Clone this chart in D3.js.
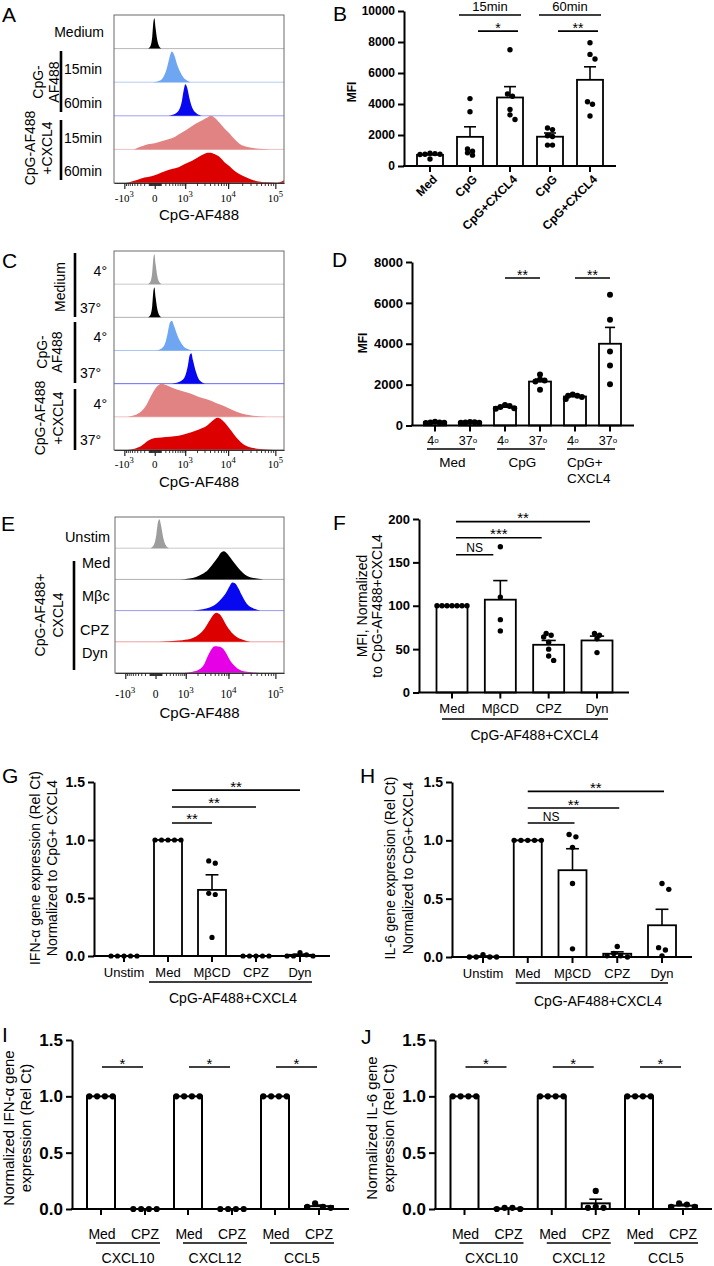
<!DOCTYPE html>
<html><head><meta charset="utf-8">
<script src="https://cdn.jsdelivr.net/npm/d3@7/dist/d3.min.js"></script>
<style>html,body{margin:0;padding:0;background:#fff;}svg{display:block;}</style>
</head><body>
<script>
// ======================= DATA =======================
// Flow-cytometry histograms: [CpG-AF488 intensity, modal height (0..1)]
const histA_medium = [[-116,0],[-68,0.08],[-39,0.35],[-20,0.8],[-5,0.9],[13,0.6],[39,0.25],[68,0.08],[116,0]];
const histA_cpg15 = [[-26,0],[84,0.05],[152,0.15],[233,0.4],[302,0.7],[381,0.91],[470,0.8],[571,0.55],[726,0.3],[908,0.13],[1123,0.05],[1376,0]];
const histA_cpg60 = [[233,0],[439,0.04],[645,0.15],[813,0.45],[908,0.75],[1010,0.94],[1123,0.85],[1310,0.5],[1519,0.25],[1842,0.1],[2226,0.03],[2677,0]];
const histA_cx15 = [[-502,0],[-381,0.05],[-233,0.1],[-116,0.15],[0,0.18],[116,0.24],[278,0.3],[502,0.38],[813,0.5],[1245,0.63],[1842,0.76],[2677,0.87],[3505,0.95],[4183,1.0],[4990,0.95],[6450,0.8],[8330,0.62],[10740,0.47],[13830,0.3],[17760,0.16],[24760,0.08],[34500,0.04],[56600,0.01],[78700,0]];
const histA_cx60 = [[-908,0],[-645,0.04],[-381,0.1],[-190,0.16],[-53,0.2],[53,0.27],[190,0.35],[381,0.42],[645,0.47],[1010,0.57],[1519,0.66],[2226,0.78],[2929,0.86],[3505,0.9],[4183,0.9],[4990,0.86],[6450,0.78],[8330,0.62],[10740,0.5],[13830,0.36],[17760,0.26],[24760,0.16],[34500,0.08],[47900,0.04],[66600,0.02],[109000,0.01],[139800,0.05],[152000,0.08]];

const histC_med4 = [[-116,0],[-68,0.08],[-39,0.35],[-20,0.8],[-5,0.9],[13,0.6],[39,0.25],[68,0.08],[116,0]];
const histC_med37 = [[-116,0],[-68,0.08],[-39,0.35],[-20,0.8],[-5,0.9],[13,0.6],[39,0.25],[68,0.08],[116,0]];
const histC_cpg4 = [[26,0],[116,0.06],[190,0.2],[255,0.5],[327,0.85],[381,0.9],[470,0.72],[571,0.5],[726,0.27],[908,0.12],[1123,0.05],[1519,0]];
const histC_cpg37 = [[381,0],[571,0.03],[813,0.1],[1010,0.25],[1182,0.55],[1310,0.85],[1447,0.92],[1597,0.7],[1842,0.4],[2124,0.18],[2442,0.07],[3066,0]];
const histC_cx4 = [[-813,0],[-571,0.03],[-327,0.12],[-152,0.35],[-53,0.65],[26,0.9],[116,1.0],[233,0.95],[439,0.86],[813,0.78],[1376,0.7],[2226,0.6],[3505,0.52],[5430,0.42],[8330,0.32],[12700,0.2],[19300,0.1],[29200,0.05],[44200,0.02],[66600,0]];
const histC_cx37 = [[-813,0],[-502,0.04],[-278,0.12],[-116,0.28],[0,0.36],[116,0.38],[327,0.4],[645,0.43],[1123,0.5],[1842,0.58],[2677,0.66],[3505,0.75],[4566,0.88],[5920,0.97],[7030,0.93],[9070,0.78],[11680,0.58],[15030,0.38],[19300,0.22],[24760,0.12],[34500,0.06],[47900,0.03],[78700,0.01],[109000,0]];

const histE_unstim = [[-84,0],[-26,0.1],[13,0.45],[39,0.85],[62,0.93],[90,0.75],[134,0.35],[190,0.1],[278,0]];
const histE_med = [[645,0],[1245,0.03],[1842,0.08],[2677,0.18],[3505,0.3],[4566,0.5],[5920,0.72],[7030,0.87],[8000,0.9],[9070,0.85],[10740,0.72],[13830,0.5],[17760,0.3],[22800,0.15],[29200,0.07],[40600,0.03],[56600,0]];
const histE_mbc = [[1519,0],[2677,0.04],[3830,0.1],[5430,0.22],[7030,0.38],[9070,0.6],[10740,0.8],[12180,0.9],[13830,0.88],[16350,0.72],[19300,0.5],[22800,0.3],[26900,0.16],[34500,0.07],[47900,0]];
const histE_cpz = [[53,0],[278,0.02],[813,0.05],[1519,0.12],[2226,0.25],[2929,0.42],[3830,0.68],[4566,0.85],[5430,0.93],[6450,0.88],[7650,0.72],[9070,0.52],[11680,0.3],[15030,0.15],[21000,0.06],[29200,0]];
const histE_dyn = [[908,0],[1519,0.04],[2226,0.12],[2929,0.3],[3505,0.55],[4183,0.75],[4770,0.85],[5430,0.86],[6450,0.84],[7650,0.78],[9070,0.62],[10740,0.42],[13830,0.22],[17760,0.1],[24760,0.04],[40600,0.01],[56600,0]];

const histTickValues = [-1000, 0, 1000, 10000, 100000];
const histTickLabels = [["-10","3"],["0",""],["10","3"],["10","4"],["10","5"]];

// Panel B
const bCategories = ["Med","CpG","CpG+CXCL4","CpG","CpG+CXCL4"];
const bMeans = [720,1880,4420,1890,5560];
const bSEM = [60,650,700,240,840];
const bPoints = [[800,760,760,740,820,450],[4350,3500,1100,950,850,700],[7500,4650,4500,3650,3300,3000],[2350,2450,1950,1900,1350,1350],[7950,7200,6900,4150,3980,3230]];
const bTicks = [0,2000,4000,6000,8000,10000];
const bTimeGroups = [{from:1,to:2,label:"15min",y:9740},{from:3,to:4,label:"60min",y:9740}];
const bSig = [{from:1,to:2,label:"*",y:8700},{from:3,to:4,label:"**",y:8700}];

// Panel D
const dCategories = ["4","37","4","37","4","37"];
const dGroups = [{from:0,to:1,label:["Med"]},{from:2,to:3,label:["CpG"]},{from:4,to:5,label:["CpG+","CXCL4"]}];
const dMeans = [150,150,900,2150,1420,4000];
const dSEM = [20,20,50,120,40,800];
const dPoints = [[180,150,130,150,120],[160,140,170,130,150],[1000,950,900,850,820],[2500,2250,2200,2150,1750],[1520,1460,1450,1400,1300],[6400,5170,3620,2930,2020]];
const dTicks = [0,2000,4000,6000,8000];
const dSig = [{from:2,to:3,label:"**",y:7215},{from:4,to:5,label:"**",y:7215}];

// Panel F
const fCategories = ["Med","M\u03B2CD","CPZ","Dyn"];
const fMeans = [100,107,55,60];
const fSEM = [0,22,5,5];
const fPoints = [[100,100,100,100,100,100,100],[168,110,84,71],[64,66,68,58,50,37,42],[66,68,62,46]];
const fTicks = [0,50,100,150,200];
const fSig = [{from:0,to:3,label:"**",y:197},{from:0,to:2,label:"***",y:178.4},{from:0,to:1,label:"NS",y:158.8}];

// Panel G
const gCategories = ["Unstim","Med","M\u03B2CD","CPZ","Dyn"];
const gMeans = [0,1,0.57,0,0.01];
const gSEM = [0,0,0.13,0,0.006];
const gPoints = [[0,0,0,0,0],[1,1,1,1,1],[0.82,0.80,0.54,0.53,0.16],[0,0,0,0,0],[0,0.03,0.01,0,0]];
const gSig = [{from:1,to:4,label:"**",y:1.43},{from:1,to:3,label:"**",y:1.285},{from:1,to:2,label:"**",y:1.147}];

// Panel H
const hCategories = ["Unstim","Med","M\u03B2CD","CPZ","Dyn"];
const hMeans = [0.004,1,0.744,0.028,0.272];
const hSEM = [0.004,0,0.184,0.016,0.137];
const hPoints = [[0,0.02,0,0,0],[1,1,1,1,1],[1.05,1.03,0.94,0.63,0.07],[0.09,0.03,0.01,0,0.01],[0.63,0.58,0.08,0.06,0.01]];
const hSig = [{from:1,to:4,label:"**",y:1.42},{from:1,to:3,label:"**",y:1.277},{from:1,to:2,label:"NS",y:1.148}];

const relTicks = [0,0.5,1.0,1.5];

// Panels I & J
const ijGroups = ["CXCL10","CXCL12","CCL5"];
const ijConds = ["Med","CPZ"];
const iMeans = [[1,0],[1,0],[1,0.025]];
const iSEM = [[0,0],[0,0],[0,0.01]];
const iPoints = [[[1,1,1,1],[0,0,0,0]],[[1,1,1,1],[0,0,0,0]],[[1,1,1,1],[0.05,0.02,0.02,0.01]]];
const jMeans = [[1,0.005],[1,0.05],[1,0.03]];
const jSEM = [[0,0.003],[0,0.037],[0,0.012]];
const jPoints = [[[1,1,1,1],[0,0,0.01,0.01]],[[1,1,1,1],[0.16,0.02,0.01,0.01]],[[1,1,1,1],[0.05,0.04,0.02,0.02]]];
const ijSigY = 1.26;

// ======================= DRAWING =======================
const FONT = "'Liberation Sans', Arial, Helvetica, sans-serif";
const svg = d3.select("body").append("svg").attr("width",714).attr("height",1266)
  .style("font-family",FONT).style("background","#fff");

function T(s,x,y,o={}){
  const t = svg.append("text").attr("x",x).attr("y",y).text(s)
    .attr("font-size",o.size||12).attr("text-anchor",o.anchor||"start").attr("fill","#000");
  if(o.weight) t.attr("font-weight",o.weight);
  if(o.family) t.attr("font-family",o.family);
  return t;
}
function RT(s,x,cy,size,o={}){
  const t = svg.append("text").attr("transform",`translate(${x},${cy}) rotate(-90)`)
    .attr("text-anchor","middle").attr("dy","0.35em").attr("font-size",size).text(s);
  if(o.weight) t.attr("font-weight",o.weight);
  return t;
}
function L(x1,y1,x2,y2,w=1.5,c="#000"){
  svg.append("line").attr("x1",x1).attr("y1",y1).attr("x2",x2).attr("y2",y2).attr("stroke",c).attr("stroke-width",w);
}

// panel letters
[["A",2,22],["B",333,21],["C",2,268],["D",332,267],["E",1,531],["F",333,530],["G",2,783],["H",360,783],["I",2,1042],["J",361,1044]]
  .forEach(d=>T(d[0],d[1],d[2],{size:21}));

// ---------- histograms ----------
const histDomain = [-1840,152000];
const minorTicks = [];
for(let k=1;k<=9;k++){ minorTicks.push(k*10,-k*10,k*100,-k*100,k*1000,k*10000); }

function histPanel(cfg){
  const x = d3.scaleSymlog().constant(300).domain(histDomain).range([cfg.x0,cfg.x1]);
  const n = cfg.rows.length, rh = (cfg.y1-cfg.y0)/n;
  cfg.rows.forEach((r,i)=>{
    const yb = cfg.y0+(i+1)*rh;
    const y = d3.scaleLinear().domain([0,1]).range([yb,yb-rh]);
    const area = d3.area().x(d=>x(d[0])).y0(yb).y1(d=>y(d[1])).curve(d3.curveMonotoneX);
    if(i<n-1) L(cfg.x0,yb,cfg.x1,yb,1,r.line||r.color);
    svg.append("path").attr("d",area(r.data)).attr("fill",r.color);
  });
  svg.append("rect").attr("x",cfg.x0).attr("y",cfg.y0).attr("width",cfg.x1-cfg.x0).attr("height",cfg.y1-cfg.y0)
    .attr("fill","none").attr("stroke","#6a6a6a").attr("stroke-width",1);
  const ga = svg.append("g").attr("transform",`translate(0,${cfg.y1})`)
    .call(d3.axisBottom(x).tickValues(histTickValues).tickSize(6).tickSizeOuter(0).tickFormat(""));
  ga.select(".domain").attr("stroke","#333").attr("stroke-width",1.2);
  ga.selectAll(".tick line").attr("stroke","#222").attr("stroke-width",1.2);
  const gm = svg.append("g").attr("transform",`translate(0,${cfg.y1})`)
    .call(d3.axisBottom(x).tickValues(minorTicks).tickSize(3).tickSizeOuter(0).tickFormat(""));
  gm.select(".domain").remove();
  gm.selectAll(".tick line").attr("stroke","#222").attr("stroke-width",0.9);
  histTickValues.forEach((v,i)=>{
    const t = svg.append("text").attr("x",x(v)).attr("y",cfg.labelY).attr("text-anchor","middle")
      .attr("font-family","'Liberation Serif','Times New Roman',serif").attr("font-size",cfg.tickSize);
    t.append("tspan").text(histTickLabels[i][0]);
    if(histTickLabels[i][1]) t.append("tspan").attr("dy",-cfg.tickSize*0.45).attr("font-size",cfg.tickSize*0.78).text(histTickLabels[i][1]);
  });
  T("CpG-AF488",(cfg.x0+cfg.x1)/2,cfg.titleY,{size:cfg.titleSize,anchor:"middle"});
}

const cBlack="#000", cGray="#9d9d9d", cLBlue="#6ea6f2", cBlue="#0808f0", cSalmon="#e28383", cRed="#dc0000", cMag="#e600e6";

histPanel({x0:114,x1:284,y0:15,y1:183,labelY:202,tickSize:11,titleY:220,titleSize:15,rows:[
  {data:histA_medium,color:cBlack,line:"#b8b8b8"},
  {data:histA_cpg15,color:cLBlue,line:"#b5cdf5"},
  {data:histA_cpg60,color:cBlue,line:"#a0a0f5"},
  {data:histA_cx15,color:cSalmon,line:"#f0c0c0"},
  {data:histA_cx60,color:cRed}]});
T("Medium",104,37,{size:14,anchor:"end"});
T("15min",64,74,{size:14}); T("60min",64,108,{size:14});
T("15min",64,143,{size:14}); T("60min",64,176,{size:14});
L(61,51,61,112,2.6); L(61,120,61,180,2.6);
RT("CpG-",38,82,14); RT("AF488",54,82,14);
RT("CpG-AF488",30,148,14); RT("+CXCL4",47,148,14);

histPanel({x0:114,x1:284,y0:251,y1:450,labelY:468,tickSize:11,titleY:487,titleSize:15,rows:[
  {data:histC_med4,color:cGray,line:"#c8c8c8"},
  {data:histC_med37,color:cBlack,line:"#b0b0b0"},
  {data:histC_cpg4,color:cLBlue,line:"#a8c6f5"},
  {data:histC_cpg37,color:cBlue,line:"#6a6af5"},
  {data:histC_cx4,color:cSalmon,line:"#f0c0c0"},
  {data:histC_cx37,color:cRed}]});
[[276,313],[342,378],[409,445]].forEach(p=>{
  T("4\u00B0",107,p[0],{size:14,anchor:"end"}); T("37\u00B0",80,p[1],{size:14});
});
L(75,253,75,317,2.6); L(75,322,75,383,2.6); L(75,389,75,450,2.6);
RT("Medium",60,287,14);
RT("CpG-",42,352,14); RT("AF488",57,352,14);
RT("CpG-AF488",40,418,14); RT("+CXCL4",58,418,14);

histPanel({x0:115,x1:284,y0:517,y1:673,labelY:698,tickSize:11.5,titleY:718,titleSize:15,rows:[
  {data:histE_unstim,color:cGray,line:"#c8c8c8"},
  {data:histE_med,color:cBlack,line:"#b0b0b0"},
  {data:histE_mbc,color:cBlue,line:"#9a9af5"},
  {data:histE_cpz,color:cRed,line:"#f0a0a0"},
  {data:histE_dyn,color:cMag}]});
T("Unstim",110,542,{size:14.5,anchor:"end"});
T("Med",82,568,{size:14.5}); T("M\u03B2c",82,601,{size:14.5});
T("CPZ",80,635,{size:14.5}); T("Dyn",82,658,{size:14.5});
L(74,561,74,670,2.6);
RT("CpG-AF488+",40,615,14); RT("CXCL4",58,615,14);

// ---------- bar charts ----------
function swarm(vals,y,step){
  const order = vals.map((v,i)=>i).sort((a,b)=>vals[b]-vals[a]);
  const placed=[];
  order.forEach(i=>{
    const py=y(vals[i]); let off=0;
    for(let t=0;t<40;t++){
      off = t===0?0:(t%2?1:-1)*Math.ceil(t/2)*step;
      if(placed.every(p=>Math.hypot(p.dx-off,p.y-py)>=step*0.98)) break;
    }
    placed.push({dx:off,y:py});
  });
  const rows=[];
  placed.forEach(p=>{ const r=rows.find(r=>Math.abs(r[0].y-p.y)<step*0.6); if(r) r.push(p); else rows.push([p]); });
  rows.forEach(r=>{ if(r.length>1){ const m=d3.mean(r,p=>p.dx); r.forEach(p=>p.dx-=m);} });
  return placed;
}

function barPanel(c){
  const y=c.y, n=c.means.length;
  for(let i=0;i<n;i++){
    const cx=c.xs[i], m=c.means[i];
    svg.append("rect").attr("x",cx-c.barW/2).attr("y",y(m)).attr("width",c.barW).attr("height",Math.max(0,y(0)-y(m)))
      .attr("fill","#fff").attr("stroke","#000").attr("stroke-width",c.sw||1.8);
    if(c.sems[i]>0){
      L(cx,y(m),cx,y(m+c.sems[i]),1.6);
      L(cx-c.barW*0.23,y(m+c.sems[i]),cx+c.barW*0.23,y(m+c.sems[i]),1.6);
    }
  }
  const ga = svg.append("g").attr("transform",`translate(${c.ax},0)`)
    .call(d3.axisLeft(y).tickValues(c.ticks).tickSize(6).tickSizeOuter(0).tickPadding(3).tickFormat(c.fmt));
  ga.selectAll("path,line").attr("stroke","#000").attr("stroke-width",2);
  ga.selectAll("text").attr("font-size",c.tickFont).attr("font-weight","bold").attr("font-family",FONT).attr("fill","#000");
  L(c.ax-1,y(0),c.axEnd,y(0),2);
  c.xs.forEach(cx=>L(cx,y(0),cx,y(0)+6,2));
  for(let i=0;i<n;i++){
    swarm(c.points[i],y,c.step).forEach(p=>{
      svg.append("circle").attr("cx",c.xs[i]+p.dx).attr("cy",p.y).attr("r",c.r).attr("fill","#000");
    });
  }
}
function sig(x1,x2,yy,label,size){
  L(x1,yy,x2,yy,1.6);
  if(label==="NS") T(label,(x1+x2)/2,yy-2.5,{size:12,anchor:"middle"});
  else T(label,(x1+x2)/2,yy+1.5,{size:size,anchor:"middle"});
}

// Panel B
{
  const x = d3.scalePoint().domain(d3.range(bMeans.length)).range([430,590]);
  const y = d3.scaleLinear().domain([0,10000]).range([166,11]);
  const xs = d3.range(bMeans.length).map(i=>x(i));
  barPanel({y,xs,means:bMeans,sems:bSEM,points:bPoints,ticks:bTicks,fmt:d3.format("d"),ax:404,axEnd:616,barW:26,r:2.7,step:5,tickFont:12});
  bCategories.forEach((s,i)=>{
    svg.append("text").attr("transform",`translate(${xs[i]+5},177) rotate(-45)`).attr("text-anchor","end").attr("dy","0.35em")
      .attr("font-size",12).attr("font-weight","bold").text(s);
  });
  bTimeGroups.forEach(g=>{ L(xs[g.from]-11,y(g.y),xs[g.to]+11,y(g.y),1.6); T(g.label,(xs[g.from]+xs[g.to])/2,y(g.y)-4,{size:13,anchor:"middle"}); });
  bSig.forEach(s=>sig(xs[s.from]+8,xs[s.to]+8,y(s.y),s.label,14));
  RT("MFI",352,92,12,{weight:"bold"});
}

// Panel D
{
  const x = d3.scalePoint().domain(d3.range(dMeans.length)).range([435,610]);
  const y = d3.scaleLinear().domain([0,8000]).range([425.5,262]);
  const xs = d3.range(dMeans.length).map(i=>x(i));
  barPanel({y,xs,means:dMeans,sems:dSEM,points:dPoints,ticks:dTicks,fmt:d3.format("d"),ax:412,axEnd:634,barW:22,r:3,step:4.6,tickFont:13});
  dCategories.forEach((s,i)=>{
    const t=T(s,xs[i]-2,445,{size:12.5,anchor:"middle"});
    t.append("tspan").attr("dy",-2).attr("font-size",8).text("o");
  });
  dGroups.forEach((g,k)=>{
    L(xs[g.from]-8,449,xs[g.to]+5,449,1.6);
    if(g.label.length===1) T(g.label[0],(xs[g.from]+xs[g.to])/2,467,{size:13.5,anchor:"middle"});
    else { T(g.label[0],xs[g.from]-8,467,{size:13.5}); T(g.label[1],xs[g.from]-8,483,{size:13.5}); }
  });
  dSig.forEach(s=>sig(xs[s.from],xs[s.to],y(s.y),s.label,14));
  RT("MFI",363,343,12,{weight:"bold"});
}

// Panel F
{
  const x = d3.scalePoint().domain(d3.range(fMeans.length)).range([452,597]);
  const y = d3.scaleLinear().domain([0,200]).range([692.5,519]);
  const xs = d3.range(fMeans.length).map(i=>x(i));
  barPanel({y,xs,means:fMeans,sems:fSEM,points:fPoints,ticks:fTicks,fmt:d3.format("d"),ax:419,axEnd:629,barW:31,r:2.7,step:5,tickFont:13});
  fCategories.forEach((s,i)=>T(s,xs[i],713,{size:13,anchor:"middle"}));
  L(xs[0]-10,719,xs[3]+11,719,1.6);
  T("CpG-AF488+CXCL4",(xs[0]+xs[3])/2+10,740,{size:14,anchor:"middle"});
  fSig.forEach(s=>sig(xs[s.from]+4,xs[s.to]-7,y(s.y),s.label,15));
  RT("MFI, Normalized",362,606,14); RT("to CpG-AF488+CXCL4",377,606,14);
}

// Panel G
{
  const x = d3.scalePoint().domain(d3.range(gMeans.length)).range([124,300]);
  const y = d3.scaleLinear().domain([0,1.5]).range([956,782]);
  const xs = d3.range(gMeans.length).map(i=>x(i));
  barPanel({y,xs,means:gMeans,sems:gSEM,points:gPoints,ticks:relTicks,fmt:d3.format(".1f"),ax:94,axEnd:330,barW:28,r:2.6,step:6.5,tickFont:14});
  gCategories.forEach((s,i)=>T(s,xs[i],977,{size:13,anchor:"middle"}));
  L(xs[1]-19,982,xs[4]+12,982,1.6);
  T("CpG-AF488+CXCL4",233,1003,{size:14,anchor:"middle"});
  gSig.forEach(s=>sig(xs[s.from]+4,xs[s.to],y(s.y),s.label,15));
  RT("IFN-\u03B1 gene expression (Rel Ct)",35,868,14); RT("Normalized to CpG+ CXCL4",52,868,14);
}

// Panel H
{
  const x = d3.scalePoint().domain(d3.range(hMeans.length)).range([483,662]);
  const y = d3.scaleLinear().domain([0,1.5]).range([957,782]);
  const xs = d3.range(hMeans.length).map(i=>x(i));
  barPanel({y,xs,means:hMeans,sems:hSEM,points:hPoints,ticks:relTicks,fmt:d3.format(".1f"),ax:452,axEnd:692,barW:28,r:2.7,step:6.8,tickFont:14});
  hCategories.forEach((s,i)=>T(s,xs[i],978,{size:13,anchor:"middle"}));
  L(xs[1]-12,983,xs[4]+6,983,1.6);
  T("CpG-AF488+CXCL4",598,1006,{size:14,anchor:"middle"});
  hSig.forEach(s=>sig(xs[s.from],xs[s.to]+2,y(s.y),s.label,15));
  RT("IL-6 gene expression (Rel Ct)",390,868,14); RT("Normalized to CpG+CXCL4",408,868,14);
}

// Panels I & J
function ijPanel(means,sems,points,ax,axEnd,gRange,lab){
  const gx = d3.scalePoint().domain(ijGroups).range(gRange);
  const ix = d3.scalePoint().domain(ijConds).range([-22,22]);
  const y = d3.scaleLinear().domain([0,1.5]).range([1209,1040]);
  const xs=[], m=[], s=[], p=[];
  ijGroups.forEach((g,gi)=>ijConds.forEach((c,ci)=>{ xs.push(gx(g)+ix(c)); m.push(means[gi][ci]); s.push(sems[gi][ci]); p.push(points[gi][ci]); }));
  barPanel({y,xs,means:m,sems:s,points:p,ticks:relTicks,fmt:d3.format(".1f"),ax,axEnd,barW:28,r:3.1,step:7.8,tickFont:17,sw:2});
  ijGroups.forEach(g=>{
    const a=gx(g)+ix("Med"), b=gx(g)+ix("CPZ");
    T("Med",a+1,1239,{size:14,anchor:"middle"}); T("CPZ",b,1239,{size:14,anchor:"middle"});
    L(a-5,1243,b+15,1243,1.6);
    T(g,(a+b)/2+5,1263,{size:14,anchor:"middle"});
    sig(a+1,b-2,y(ijSigY),"*",15);
  });
  RT(lab[0],lab[2],1128,15); RT(lab[1],lab[3],1128,15);
}
ijPanel(iMeans,iSEM,iPoints,72,349,[123,297],["Normalized IFN-\u03B1 gene","expression (Rel Ct)",9,26]);
ijPanel(jMeans,jSEM,jPoints,435,712,[486.5,661],["Normalized IL-6 gene","expression (Rel Ct)",372,389]);
</script>
</body></html>
